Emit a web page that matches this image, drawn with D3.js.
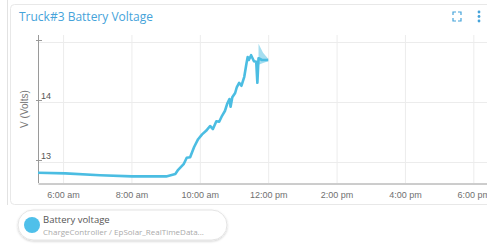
<!DOCTYPE html>
<html>
<head>
<meta charset="utf-8">
<script src="https://cdn.jsdelivr.net/npm/d3@7"></script>
<style>
  body { margin: 0; background: #fff; }
  svg { display: block; font-family: "Open Sans", sans-serif; }
</style>
</head>
<body>
<div id="chart"></div>
<script>
// Truck#3 battery voltage over the day

var times = ["05:16", "06:04", "07:05", "08:01", "09:01", "09:17", "09:22", "09:27", "09:32", "09:37",
  "09:43", "09:50", "09:57", "10:04", "10:11", "10:18", "10:23", "10:29", "10:34", "10:39",
  "10:44", "10:48", "10:52", "10:54", "10:57", "11:02", "11:05", "11:09", "11:13", "11:18",
  "11:22", "11:24", "11:26", "11:30", "11:35", "11:39", "11:41", "11:43", "11:49", "12:00"];
var volts = [12.82, 12.81, 12.78, 12.76, 12.76, 12.80, 12.87, 12.92, 12.97, 13.07,
  13.08, 13.25, 13.38, 13.46, 13.52, 13.60, 13.55, 13.68, 13.67, 13.77,
  13.85, 13.97, 14.05, 13.92, 14.08, 14.15, 14.25, 14.32, 14.27, 14.42,
  14.65, 14.75, 14.70, 14.78, 14.68, 14.67, 14.32, 14.73, 14.70, 14.70];

// min / max band at the end of the series
var bandTimes = ["11:43", "11:51", "12:00"];
var bandLow = [14.62, 14.65, 14.68];
var bandHigh = [14.97, 14.82, 14.72];

var xTicks = ["06:00", "08:00", "10:00", "12:00", "14:00", "16:00", "18:00"];
var yTicks = [13, 14, 15];
var yLabels = [13, 14];

var title = "Truck#3 Battery Voltage";
var yTitle = "V (Volts)";
var seriesName = "Battery voltage";
var seriesSource = "ChargeController / EpSolar_RealTimeData...";

var svgWidth = 487;
var svgHeight = 244;
var blue = "#45a3da";
var lineColor = "#4bbde2";

var parseTime = d3.timeParse("%H:%M");
var fmt = d3.timeFormat("%-I:%M %p");

var svg = d3.select("#chart")
  .append("svg")
  .attr("width", svgWidth)
  .attr("height", svgHeight);

// panel frame
// ==============================
svg.append("line")
  .attr("x1", 7.5).attr("x2", 7.5)
  .attr("y1", 0).attr("y2", 205)
  .attr("stroke", "#e2e2e2");

svg.append("rect")
  .attr("x", 10.5).attr("y", 4.5)
  .attr("width", 500).attr("height", 200)
  .attr("rx", 4)
  .attr("fill", "#fff")
  .attr("stroke", "#e8e8e8");

svg.append("text")
  .attr("x", 19).attr("y", 21)
  .attr("fill", blue)
  .style("font-size", "12px")
  .text(title);

// fullscreen icon + menu dots
var icon = svg.append("g").attr("stroke", blue).attr("stroke-width", 1.2).attr("fill", "none");
[[453, 12, 1, 1], [461, 12, -1, 1], [453, 21, 1, -1], [461, 21, -1, -1]].forEach(function(c) {
  icon.append("path")
    .attr("d", `M${c[0]},${c[1] + 3 * c[3]} L${c[0]},${c[1]} L${c[0] + 3 * c[2]},${c[1]}`);
});
[12, 16.5, 21].forEach(function(cy) {
  svg.append("circle").attr("cx", 479).attr("cy", cy).attr("r", 1.4).attr("fill", blue);
});

// scales
// ==============================
var xScale = d3.scaleTime()
  .domain([parseTime("05:16"), parseTime("18:24")])
  .range([38, 487]);

var yScale = d3.scaleLinear()
  .domain([12.65, 15.117])
  .range([183, 35]);

// gridlines
// ==============================
svg.append("g")
  .selectAll("line")
  .data(xTicks)
  .enter()
  .append("line")
  .attr("x1", d => xScale(parseTime(d)) + 0.5)
  .attr("x2", d => xScale(parseTime(d)) + 0.5)
  .attr("y1", 35).attr("y2", 183)
  .attr("stroke", "#ececec");

svg.append("g")
  .selectAll("line")
  .data(yTicks)
  .enter()
  .append("line")
  .attr("x1", 38).attr("x2", 487)
  .attr("y1", d => Math.round(yScale(d)) + 0.5)
  .attr("y2", d => Math.round(yScale(d)) + 0.5)
  .attr("stroke", "#ececec");

// axes
// ==============================
var bottomAxis = d3.axisBottom(xScale)
  .tickValues(xTicks.map(parseTime))
  .tickSize(0)
  .tickPadding(8)
  .tickFormat(d => fmt(d).toLowerCase());

var xAxis = svg.append("g")
  .attr("transform", "translate(0, 183.5)")
  .call(bottomAxis);
xAxis.select(".domain").attr("stroke", "#9a9a9a");
xAxis.selectAll("text").attr("fill", "#707070").style("font-family", "Liberation Sans, Arial, sans-serif").style("font-size", "9px");

svg.append("line")
  .attr("x1", 38.5).attr("x2", 38.5)
  .attr("y1", 35).attr("y2", 183)
  .attr("stroke", "#9a9a9a");

svg.append("g")
  .selectAll("line")
  .data(yTicks)
  .enter()
  .append("line")
  .attr("x1", 36).attr("x2", 42)
  .attr("y1", d => Math.round(yScale(d)) - 1.5)
  .attr("y2", d => Math.round(yScale(d)) - 1.5)
  .attr("stroke", "#9a9a9a");

svg.append("g")
  .selectAll("text")
  .data(yLabels)
  .enter()
  .append("text")
  .attr("x", 41)
  .attr("y", d => yScale(d) - 3)
  .attr("fill", "#555")
  .style("font-family", "Liberation Sans, Arial, sans-serif")
  .style("font-size", "9px")
  .text(d => d);

svg.append("text")
  .attr("transform", "translate(28, 109) rotate(-90)")
  .attr("text-anchor", "middle")
  .attr("fill", "#777")
  .style("font-family", "Liberation Sans, Arial, sans-serif")
  .style("font-size", "10px")
  .text(yTitle);

// band + line
// ==============================
var band = bandTimes.map((t, i) => ({ t: parseTime(t), lo: bandLow[i], hi: bandHigh[i] }));
svg.append("path")
  .datum(band)
  .attr("fill", lineColor)
  .attr("opacity", 0.5)
  .attr("d", d3.area().x(d => xScale(d.t)).y0(d => yScale(d.lo)).y1(d => yScale(d.hi)));

var series = times.map((t, i) => ({ t: parseTime(t), v: volts[i] }));
svg.append("path")
  .datum(series)
  .attr("fill", "none")
  .attr("stroke", lineColor)
  .attr("stroke-width", 2.6)
  .attr("stroke-linejoin", "round")
  .attr("d", d3.line().x(d => xScale(d.t)).y(d => yScale(d.v)));

// legend pill
// ==============================
var defs = svg.append("defs");
var filter = defs.append("filter").attr("id", "shadow").attr("x", "-10%").attr("y", "-30%").attr("width", "120%").attr("height", "160%");
filter.append("feDropShadow").attr("dx", 0).attr("dy", 1).attr("stdDeviation", 1.2).attr("flood-color", "#000").attr("flood-opacity", 0.18);

svg.append("rect")
  .attr("x", 18).attr("y", 210)
  .attr("width", 209).attr("height", 30)
  .attr("rx", 15)
  .attr("fill", "#fff")
  .attr("stroke", "#e4e4e4")
  .attr("filter", "url(#shadow)");

svg.append("circle")
  .attr("cx", 32).attr("cy", 225).attr("r", 8)
  .attr("fill", "#4fc0ea");

svg.append("text")
  .attr("x", 43).attr("y", 223)
  .attr("fill", "#555")
  .style("font-size", "9.5px")
  .text(seriesName);

svg.append("text")
  .attr("x", 43).attr("y", 234.5)
  .attr("fill", "#aaa")
  .style("font-size", "8px")
  .text(seriesSource);
</script>
</body>
</html>
